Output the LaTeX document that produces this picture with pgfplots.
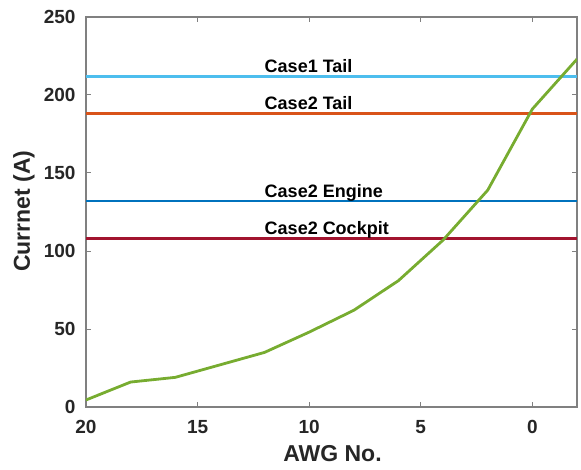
\documentclass[border=0pt]{standalone}
\usepackage{pgfplots}
\pgfplotsset{compat=1.18}
\usepackage{fontspec}
\setmainfont{Liberation Sans}
\definecolor{cA}{RGB}{77,190,238}
\definecolor{cB}{RGB}{217,83,25}
\definecolor{cC}{RGB}{0,114,189}
\definecolor{cD}{RGB}{162,20,47}
\definecolor{cG}{RGB}{119,172,48}
\definecolor{axg}{RGB}{128,128,128}
\definecolor{txt}{RGB}{38,38,38}
\begin{document}
\begin{tikzpicture}
\begin{axis}[
  at={(0,0)}, anchor=south west,
  scale only axis, width=491pt, height=390pt,
  x dir=reverse,
  xmin=-2, xmax=20, ymin=0, ymax=250,
  xtick={0,5,10,15,20}, ytick={0,50,100,150,200,250},
  tick align=inside, major tick length=5pt,
  axis line style={axg, line width=1.2pt},
  every tick/.style={axg, line width=1pt},
  tick label style={font=\fontsize{19}{21}\selectfont\bfseries, text=txt},
  /pgf/number format/assume math mode=true,
  xlabel={AWG No.}, ylabel={Currnet (A)},
  label style={font=\fontsize{23}{26}\selectfont\bfseries, text=txt},
  xlabel style={at={(axis description cs:0.502,0)}, anchor=center, yshift=-47pt},
  ylabel style={at={(axis description cs:-0.1263,0.502)}, anchor=center},
  xticklabel style={yshift=-10pt},
  yticklabel style={xshift=-7pt},
  clip=true,
]
\addplot[cA, line width=2.8pt] coordinates {(-2,212) (20,212)};
\addplot[cB, line width=2.8pt] coordinates {(-2,188) (20,188)};
\addplot[cC, line width=2.8pt] coordinates {(-2,132) (20,132)};
\addplot[cD, line width=2.8pt] coordinates {(-2,108) (20,108)};
\addplot[cG, line width=2.8pt] coordinates {
(20,4.5) (18,16) (16,19) (14,27) (12,35) (10,48) (8,62) (6,81) (4,107) (2,139) (0,191) (-2,223)};
\tikzset{lab/.style={anchor=base west, inner sep=0pt, yshift=3.8pt, font=\fontsize{18}{20}\selectfont\bfseries}}
\node[lab] at (axis cs:12,212) {Case1 Tail};
\node[lab] at (axis cs:12,188) {Case2 Tail};
\node[lab] at (axis cs:12,132) {Case2 Engine};
\node[lab] at (axis cs:12,108) {Case2 Cockpit};
\end{axis}
\path (-86pt,-62pt) rectangle (495pt,407pt);
\end{tikzpicture}
\end{document}
